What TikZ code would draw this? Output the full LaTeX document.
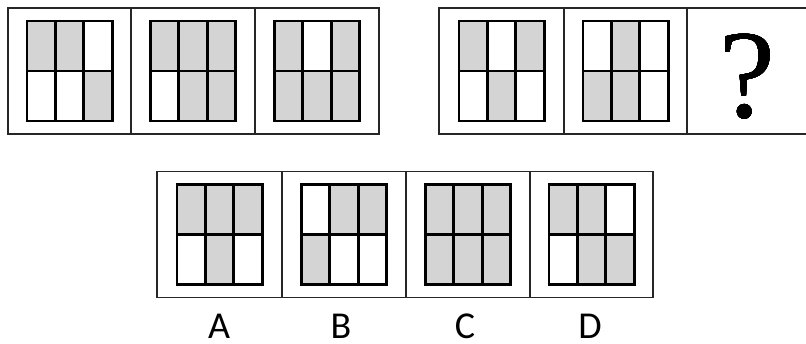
\documentclass[tikz,border=0pt]{standalone}
\usepackage{fontspec}
\newfontfamily\labfont{Carlito}
\newfontfamily\qfont{Liberation Serif}
\usetikzlibrary{calc}
\tikzset{
  cellbox/.style={draw=black!85, line width=1.6pt, inner sep=0pt, minimum height=126pt},
  gridbox/.style={inner sep=0pt, minimum width=85pt, minimum height=99.5pt},
  gridline/.style={draw=black, line width=2.6pt, line cap=rect},
  shaded/.style={fill=black!17},
  lab/.style={font=\labfont\fontsize{38}{38}\selectfont, anchor=base, inner sep=0pt}
}
\newcommand\fillcells[2]{%
  \begin{scope}[shift={(#1.north west)}]
    \foreach \c/\r in {#2} \fill[shaded] (\c*85/3, \r*49.75) rectangle ++(85/3, 49.75);
  \end{scope}}
\newcommand\gridlines[1]{%
  \draw[gridline] (#1.north west) rectangle (#1.south east)
    (#1.west) -- (#1.east)
    ($(#1.north west)!1/3!(#1.north east)$) -- ($(#1.south west)!1/3!(#1.south east)$)
    ($(#1.north west)!2/3!(#1.north east)$) -- ($(#1.south west)!2/3!(#1.south east)$);}
\begin{document}
\begin{tikzpicture}[x=1pt,y=-1pt]
\useasboundingbox[fill=white] (0,0) rectangle (806,344);
% top left row
\node[cellbox, minimum width=123pt] (t1) at (69.5,71) {};
\node[cellbox, minimum width=124pt] (t2) at (193,71) {};
\node[cellbox, minimum width=124pt] (t3) at (317,71) {};
% top right row
\node[cellbox, minimum width=125pt] (t4) at (501.5,71) {};
\node[cellbox, minimum width=123pt] (t5) at (625.5,71) {};
\node[cellbox, minimum width=128pt] (t6) at (751,71) {};
% bottom row
\node[cellbox, minimum width=125pt] (bA) at (219.5,234.5) {};
\node[cellbox, minimum width=124pt] (bB) at (344,234.5) {};
\node[cellbox, minimum width=124pt] (bC) at (468,234.5) {};
\node[cellbox, minimum width=123pt] (bD) at (591.5,234.5) {};
% grids
\foreach \n in {t1,t2,t3,t4,t5,bA,bB,bC,bD} \node[gridbox] (g\n) at (\n.center) {};
\fillcells{gt1}{0/0,1/0,2/1}
\fillcells{gt2}{0/0,1/0,2/0,1/1,2/1}
\fillcells{gt3}{0/0,2/0,0/1,1/1,2/1}
\fillcells{gt4}{0/0,2/0,1/1}
\fillcells{gt5}{1/0,0/1,1/1}
\fillcells{gbA}{0/0,1/0,2/0,1/1}
\fillcells{gbB}{1/0,2/0,0/1}
\fillcells{gbC}{0/0,1/0,2/0,0/1,1/1,2/1}
\fillcells{gbD}{0/0,1/0,1/1,2/1}
\foreach \n in {t1,t2,t3,t4,t5,bA,bB,bC,bD} \gridlines{g\n}
% question mark
\node[anchor=base, inner sep=0pt, font=\qfont\fontsize{126}{126}\selectfont] (q) at (747,118) {?};
% labels
\node[lab] (lA) at (219,339) {A};
\node[lab] (lB) at (341,339) {B};
\node[lab] (lC) at (465,339) {C};
\node[lab] (lD) at (590,339) {D};
\end{tikzpicture}
\end{document}
